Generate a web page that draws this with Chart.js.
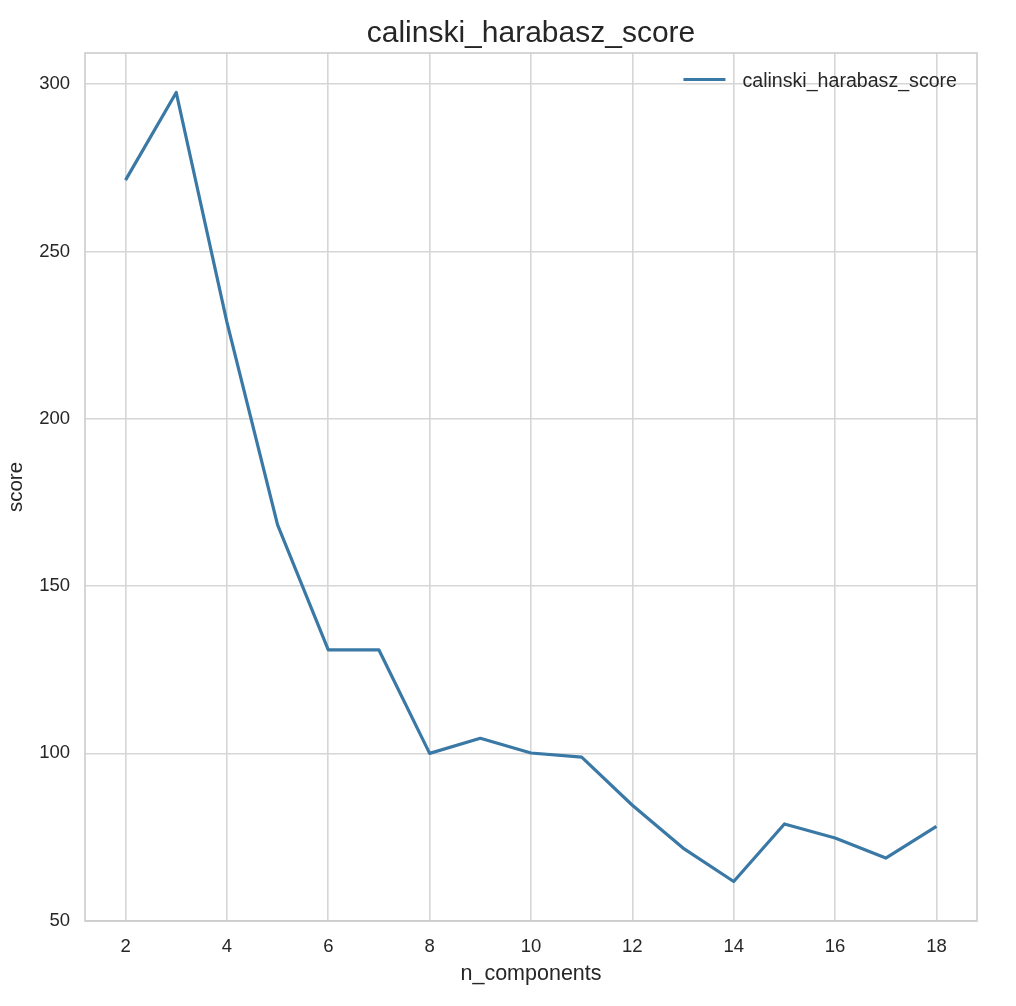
<!DOCTYPE html>
<html>
<head>
<meta charset="utf-8">
<script src="https://cdn.jsdelivr.net/npm/chart.js@4.4.0/dist/chart.umd.min.js"></script>
<style>
  html, body { margin: 0; padding: 0; background: #ffffff; }
  #c { display: block; }
</style>
</head>
<body>
<canvas id="c" width="1016" height="1006"></canvas>
<script>
// ---- data ----
const nComponents = [2, 3, 4, 5, 6, 7, 8, 9, 10, 11, 12, 13, 14, 15, 16, 17, 18];
const scores = [271.3, 297.5, 228.9, 168.3, 130.9, 130.9, 100.0, 104.5, 100.1, 98.9, 84.5, 71.7, 61.7, 78.9, 74.7, 68.7, 78.2];
const xTickValues = [2, 4, 6, 8, 10, 12, 14, 16, 18];
const yTickValues = [50, 100, 150, 200, 250, 300];
const seriesLabel = 'calinski_harabasz_score';
const chartTitle = 'calinski_harabasz_score';
const xLabel = 'n_components';
const yLabel = 'score';

const FONT = "'Liberation Sans', Arial, 'DejaVu Sans', sans-serif";
const TEXT = '#262626';
const GRID = '#d6d6d6';
const LINE = '#3a79a6';

const framePlugin = {
  id: 'frame',
  afterLayout(chart) {
    const t = chart.titleBlock;
    if (t) {
      t.left = chart.chartArea.left;
      t.right = chart.chartArea.right;
    }
  },
  beforeDatasetsDraw(chart) {
    const { ctx, chartArea: a } = chart;
    ctx.save();
    ctx.strokeStyle = '#cccccc';
    ctx.lineWidth = 1.6;
    ctx.strokeRect(a.left, a.top, a.right - a.left, a.bottom - a.top);
    ctx.restore();
  }
};

const insideLegend = {
  id: 'insideLegend',
  afterDraw(chart) {
    const { ctx, chartArea: a } = chart;
    const ds = chart.data.datasets[0];
    ctx.save();
    ctx.font = '19.6px ' + FONT;
    const tw = ctx.measureText(ds.label).width;
    const textRight = a.right - 20;
    const textLeft = textRight - tw;
    const y = a.top + 26.5;
    const lineRight = textLeft - 17;
    const lineLeft = lineRight - 42;
    ctx.strokeStyle = ds.borderColor;
    ctx.lineWidth = ds.borderWidth;
    ctx.beginPath();
    ctx.moveTo(lineLeft, y);
    ctx.lineTo(lineRight, y);
    ctx.stroke();
    ctx.fillStyle = TEXT;
    ctx.textBaseline = 'middle';
    ctx.textAlign = 'left';
    ctx.fillText(ds.label, textLeft, y + 2.5);
    ctx.restore();
  }
};

new Chart(document.getElementById('c'), {
  type: 'line',
  data: {
    datasets: [{
      label: seriesLabel,
      data: nComponents.map((n, i) => ({ x: n, y: scores[i] })),
      borderColor: LINE,
      backgroundColor: LINE,
      borderWidth: 3.2,
      pointRadius: 0,
      tension: 0,
      fill: false,
      borderJoinStyle: 'round'
    }]
  },
  options: {
    responsive: false,
    animation: false,
    devicePixelRatio: 1,
    layout: { padding: { left: 0, right: 39, top: 0, bottom: 0 } },
    plugins: {
      legend: { display: false },
      tooltip: { enabled: false },
      title: {
        display: true,
        text: chartTitle,
        color: TEXT,
        font: { family: FONT, size: 30, weight: 'normal' },
        padding: { top: 16, bottom: 1 }
      }
    },
    scales: {
      x: {
        type: 'linear',
        min: 1.2,
        max: 18.8,
        afterBuildTicks(scale) { scale.ticks = xTickValues.map(v => ({ value: v })); },
        afterFit(scale) { scale.height = 85; },
        grid: { color: GRID, lineWidth: 1.6, drawTicks: false },
        border: { display: false },
        ticks: { color: TEXT, font: { family: FONT, size: 18.5 }, padding: 15, maxRotation: 0,
          callback: v => String(v) },
        title: { display: true, text: xLabel, color: TEXT, font: { family: FONT, size: 21.5 },
          padding: { top: 0, bottom: 19 } }
      },
      y: {
        type: 'linear',
        min: 49.9,
        max: 309.3,
        afterBuildTicks(scale) { scale.ticks = yTickValues.map(v => ({ value: v })); },
        afterFit(scale) { scale.width = 85; },
        grid: { color: GRID, lineWidth: 1.6, drawTicks: false },
        border: { display: false },
        ticks: { color: TEXT, font: { family: FONT, size: 18.5 }, padding: 15,
          callback: v => String(v) },
        title: { display: true, text: yLabel, color: TEXT, font: { family: FONT, size: 20.5 },
          padding: { top: 4, bottom: 0 } }
      }
    }
  },
  plugins: [framePlugin, insideLegend]
});
</script>
</body>
</html>
